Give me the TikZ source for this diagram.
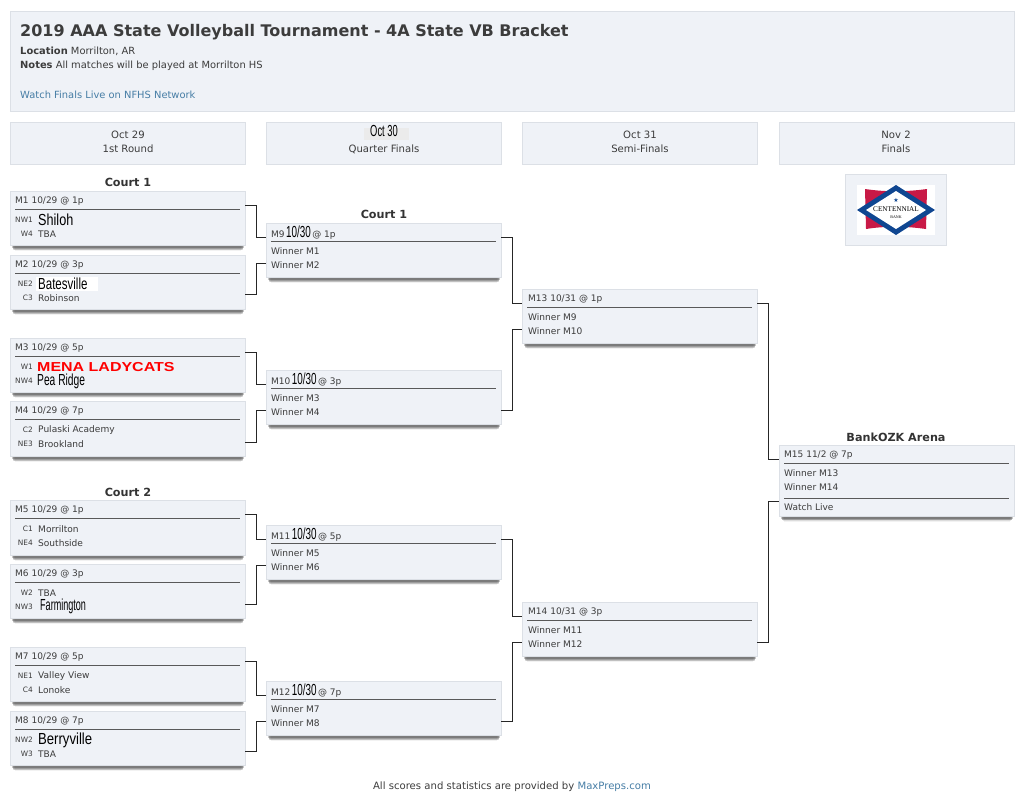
\documentclass[tikz,border=0pt]{standalone}
\usepackage{fontspec}
\usepackage{graphicx}
\setmainfont{DejaVu Sans}
\newfontfamily\plainfont{Liberation Sans}
\newfontfamily\logofont{Liberation Serif}
\usetikzlibrary{shadows}
\definecolor{boxfill}{RGB}{239,242,247}
\definecolor{boxline}{RGB}{220,224,230}
\definecolor{inktext}{RGB}{60,60,60}
\definecolor{linkblue}{RGB}{70,125,165}
\definecolor{logored}{RGB}{200,25,70}
\definecolor{logoblue}{RGB}{15,70,145}
\newcommand{\tallname}[2]{\scalebox{#1}[1]{\color{black}\plainfont\fontsize{16}{16}\selectfont #2}}
\tikzset{panel/.style={rectangle,draw=boxline,fill=boxfill,line width=0.9pt,inner sep=0pt,anchor=north west},
  matchbox/.style={panel,minimum width=235pt,minimum height=54pt,
    drop shadow={shadow xshift=0pt,shadow yshift=-7pt,shadow scale=0.965,opacity=0.05,fill=black},
    drop shadow={shadow xshift=0pt,shadow yshift=-6pt,shadow scale=0.97,opacity=0.09,fill=black},
    drop shadow={shadow xshift=0pt,shadow yshift=-5pt,shadow scale=0.975,opacity=0.13,fill=black},
    drop shadow={shadow xshift=0pt,shadow yshift=-4pt,shadow scale=0.98,opacity=0.18,fill=black},
    drop shadow={shadow xshift=0pt,shadow yshift=-3pt,shadow scale=0.985,opacity=0.22,fill=black}},
  rulebar/.style={draw=black!65,line width=0.9pt},
  elbow/.style={draw=black!85,line width=0.9pt},
  headtext/.style={anchor=west,inner sep=0pt,text=inktext,font=\fontsize{9}{10}\selectfont},
  seedtext/.style={anchor=east,inner sep=0pt,text=inktext,font=\fontsize{7.4}{9}\selectfont},
  teamtext/.style={anchor=west,inner sep=0pt,text=inktext,font=\fontsize{9.05}{11}\selectfont},
  roundtext/.style={inner sep=0pt,text=inktext,font=\fontsize{10.1}{11}\selectfont},
  courttext/.style={inner sep=0pt,text=black!80,font=\bfseries\fontsize{11.2}{12}\selectfont},
  toptext/.style={anchor=west,inner sep=0pt,text=inktext,font=\fontsize{9.9}{11}\selectfont}}

\begin{document}
\begin{tikzpicture}[x=1pt,y=-1pt]
  \useasboundingbox (0,0) rectangle (1024,804);
  % title panel
  \node[panel,minimum width=1004pt,minimum height=100pt] (titlebox) at (10,11) {};
  \node[toptext,font=\bfseries\fontsize{16}{18}\selectfont] (title) at (20,32.5) {2019 AAA State Volleyball Tournament - 4A State VB Bracket};
  \node[toptext] (location) at (20,51.5) {\textbf{Location} Morrilton, AR};
  \node[toptext] (notes) at (20,66) {\textbf{Notes} All matches will be played at Morrilton HS};
  \node[toptext,text=linkblue] (watch) at (20,95) {Watch Finals Live on NFHS Network};
  % round headers
  \node[panel,minimum width=235pt,minimum height=42pt] (roundone) at (10,122) {};
  \node[roundtext] (dateone) at (128,135) {Oct 29};
  \node[roundtext] (nameone) at (128,149) {1st Round};
  \node[panel,minimum width=235pt,minimum height=42pt] (roundtwo) at (266,122) {};
  \fill[black!8] (364,128) rectangle (409,140);
  \node[roundtext] (datetwo) at (384,131) {\tallname{0.585}{Oct 30}};
  \node[roundtext] (nametwo) at (384,149) {Quarter Finals};
  \node[panel,minimum width=235pt,minimum height=42pt] (roundthree) at (522,122) {};
  \node[roundtext] (datethree) at (640,135) {Oct 31};
  \node[roundtext] (namethree) at (640,149) {Semi-Finals};
  \node[panel,minimum width=235pt,minimum height=42pt] (roundfour) at (779,122) {};
  \node[roundtext] (datefour) at (896,135) {Nov 2};
  \node[roundtext] (namefour) at (896,149) {Finals};
  % logo
  \node[panel,minimum width=101pt,minimum height=71pt] (logobox) at (845,174) {};
  \fill[white] (857,185) rectangle (935,235);
  \fill[logored] (865,189) .. controls (885,192) and (905,192) .. (927,189) -- (926,229) .. controls (905,226) and (885,226) .. (866,229) -- cycle;
  \fill[logoblue] (857,210) -- (896,185) -- (935,210) -- (896,235) -- cycle;
  \fill[white] (866,210) -- (896,191) -- (926,210) -- (896,229) -- cycle;
  \node[inner sep=0pt,text=logoblue,font=\fontsize{6}{6}\selectfont] (logostar) at (896,200) {★};
  \node[inner sep=0pt,text=black,font=\logofont\fontsize{7.2}{7}\selectfont] (logoname) at (896,209.5) {CENTENNIAL};
  \node[inner sep=0pt,text=black,font=\logofont\fontsize{4}{4}\selectfont] (logobank) at (896,217) {BANK};
  % court labels
  \node[courttext] (courtone) at (128,182) {Court 1};
  \node[courttext] (courtonebis) at (384,214) {Court 1};
  \node[courttext] (courttwo) at (128,492) {Court 2};
  \node[courttext] (arena) at (896,437) {BankOZK Arena};
  % first round
  \begin{scope}[shift={(10,191)}]
    \node[matchbox] (m1) at (0,0) {};
    \draw[rulebar] (5,18) -- (230,18);
    \node[headtext] (m1head) at (5,10.5) {M1 10/29 @ 1p};
    \node[seedtext] (m1seeda) at (23,29) {NW1};
    \node[teamtext] (m1teama) at (28,29) {\tallname{0.79}{Shiloh}};
    \node[seedtext] (m1seedb) at (23,43) {W4};
    \node[teamtext] (m1teamb) at (28,43) {TBA};
    \coordinate (m1out) at (235,14);
  \end{scope}
  \begin{scope}[shift={(10,255)}]
    \node[matchbox] (m2) at (0,0) {};
    \fill[white] (26,22) rectangle (88,36);
    \draw[rulebar] (5,18) -- (230,18);
    \node[headtext] (m2head) at (5,10.5) {M2 10/29 @ 3p};
    \node[seedtext] (m2seeda) at (23,29) {NE2};
    \node[teamtext] (m2teama) at (28,29) {\tallname{0.72}{Batesville}};
    \node[seedtext] (m2seedb) at (23,43) {C3};
    \node[teamtext] (m2teamb) at (28,43) {Robinson};
    \coordinate (m2out) at (235,39);
  \end{scope}
  \begin{scope}[shift={(10,338)}]
    \node[matchbox] (m3) at (0,0) {};
    \draw[rulebar] (5,18) -- (230,18);
    \node[headtext] (m3head) at (5,10.5) {M3 10/29 @ 5p};
    \node[seedtext] (m3seeda) at (23,29) {W1};
    \node[teamtext,text=red] (m3teama) at (27,29) {\scalebox{1.23}[1]{\plainfont\bfseries\fontsize{13}{13}\selectfont MENA LADYCATS}};
    \node[seedtext] (m3seedb) at (23,43) {NW4};
    \node[teamtext] (m3teamb) at (27,43) {\tallname{0.64}{Pea Ridge}};
    \coordinate (m3out) at (235,14);
  \end{scope}
  \begin{scope}[shift={(10,401)}]
    \node[matchbox,minimum height=55pt] (m4) at (0,0) {};
    \draw[rulebar] (5,18) -- (230,18);
    \node[headtext] (m4head) at (5,10.5) {M4 10/29 @ 7p};
    \node[seedtext] (m4seeda) at (23,29) {C2};
    \node[teamtext] (m4teama) at (28,29) {Pulaski Academy};
    \node[seedtext] (m4seedb) at (23,43) {NE3};
    \node[teamtext] (m4teamb) at (28,43) {Brookland};
    \coordinate (m4out) at (235,41);
  \end{scope}
  \begin{scope}[shift={(10,500)}]
    \node[matchbox,minimum height=55pt] (m5) at (0,0) {};
    \draw[rulebar] (5,18) -- (230,18);
    \node[headtext] (m5head) at (5,10.5) {M5 10/29 @ 1p};
    \node[seedtext] (m5seeda) at (23,29) {C1};
    \node[teamtext] (m5teama) at (28,29) {Morrilton};
    \node[seedtext] (m5seedb) at (23,43) {NE4};
    \node[teamtext] (m5teamb) at (28,43) {Southside};
    \coordinate (m5out) at (235,14);
  \end{scope}
  \begin{scope}[shift={(10,564)}]
    \node[matchbox] (m6) at (0,0) {};
    \draw[rulebar] (5,18) -- (230,18);
    \node[headtext] (m6head) at (5,10.5) {M6 10/29 @ 3p};
    \node[seedtext] (m6seeda) at (23,29) {W2};
    \node[teamtext] (m6teama) at (28,29) {TBA};
    \node[seedtext] (m6seedb) at (23,43) {NW3};
    \node[teamtext] (m6teamb) at (30,42) {\tallname{0.566}{Farmington}};
    \coordinate (m6out) at (235,40);
  \end{scope}
  \begin{scope}[shift={(10,647)}]
    \node[matchbox] (m7) at (0,0) {};
    \draw[rulebar] (5,18) -- (230,18);
    \node[headtext] (m7head) at (5,10.5) {M7 10/29 @ 5p};
    \node[seedtext] (m7seeda) at (23,29) {NE1};
    \node[teamtext] (m7teama) at (28,29) {Valley View};
    \node[seedtext] (m7seedb) at (23,43) {C4};
    \node[teamtext] (m7teamb) at (28,43) {Lonoke};
    \coordinate (m7out) at (235,14);
  \end{scope}
  \begin{scope}[shift={(10,711)}]
    \node[matchbox] (m8) at (0,0) {};
    \draw[rulebar] (5,18) -- (230,18);
    \node[headtext] (m8head) at (5,10.5) {M8 10/29 @ 7p};
    \node[seedtext] (m8seeda) at (23,29) {NW2};
    \node[teamtext] (m8teama) at (28,29) {\tallname{0.82}{Berryville}};
    \node[seedtext] (m8seedb) at (23,43) {W3};
    \node[teamtext] (m8teamb) at (28,43) {TBA};
    \coordinate (m8out) at (235,40);
  \end{scope}
  % quarter finals
  \begin{scope}[shift={(266,223)}]
    \node[matchbox] (m9) at (0,0) {};
    \draw[rulebar] (5,18) -- (230,18);
    \node[headtext] (m9head) at (5,10) {M9\,\tallname{0.616}{10/30}\,@ 1p};
    \node[teamtext] (m9teama) at (5,28) {Winner M1};
    \node[teamtext] (m9teamb) at (5,42) {Winner M2};
    \coordinate (m9ina) at (0,14);
    \coordinate (m9inb) at (0,40);
    \coordinate (m9out) at (235,14);
  \end{scope}
  \begin{scope}[shift={(266,370)}]
    \node[matchbox] (m10) at (0,0) {};
    \draw[rulebar] (5,18) -- (230,18);
    \node[headtext] (m10head) at (5,10) {M10\,\tallname{0.616}{10/30}\,@ 3p};
    \node[teamtext] (m10teama) at (5,28) {Winner M3};
    \node[teamtext] (m10teamb) at (5,42) {Winner M4};
    \coordinate (m10ina) at (0,14);
    \coordinate (m10inb) at (0,40);
    \coordinate (m10out) at (235,40);
  \end{scope}
  \begin{scope}[shift={(266,525)}]
    \node[matchbox] (m11) at (0,0) {};
    \draw[rulebar] (5,18) -- (230,18);
    \node[headtext] (m11head) at (5,10) {M11\,\tallname{0.616}{10/30}\,@ 5p};
    \node[teamtext] (m11teama) at (5,28) {Winner M5};
    \node[teamtext] (m11teamb) at (5,42) {Winner M6};
    \coordinate (m11ina) at (0,14);
    \coordinate (m11inb) at (0,40);
    \coordinate (m11out) at (235,14);
  \end{scope}
  \begin{scope}[shift={(266,681)}]
    \node[matchbox] (m12) at (0,0) {};
    \draw[rulebar] (5,18) -- (230,18);
    \node[headtext] (m12head) at (5,10) {M12\,\tallname{0.616}{10/30}\,@ 7p};
    \node[teamtext] (m12teama) at (5,28) {Winner M7};
    \node[teamtext] (m12teamb) at (5,42) {Winner M8};
    \coordinate (m12ina) at (0,14);
    \coordinate (m12inb) at (0,40);
    \coordinate (m12out) at (235,40);
  \end{scope}
  % semi finals
  \begin{scope}[shift={(522,289)}]
    \node[matchbox] (m13) at (0,0) {};
    \draw[rulebar] (5,18) -- (230,18);
    \node[headtext] (m13head) at (6,10.5) {M13 10/31 @ 1p};
    \node[teamtext] (m13teama) at (6,28) {Winner M9};
    \node[teamtext] (m13teamb) at (6,42) {Winner M10};
    \coordinate (m13ina) at (0,14);
    \coordinate (m13inb) at (0,40);
    \coordinate (m13out) at (235,14);
  \end{scope}
  \begin{scope}[shift={(522,602)}]
    \node[matchbox] (m14) at (0,0) {};
    \draw[rulebar] (5,18) -- (230,18);
    \node[headtext] (m14head) at (6,10.5) {M14 10/31 @ 3p};
    \node[teamtext] (m14teama) at (6,28) {Winner M11};
    \node[teamtext] (m14teamb) at (6,42) {Winner M12};
    \coordinate (m14ina) at (0,14);
    \coordinate (m14inb) at (0,40);
    \coordinate (m14out) at (235,40);
  \end{scope}
  % finals
  \begin{scope}[shift={(779,445)}]
    \node[matchbox,minimum height=71pt] (m15) at (0,0) {};
    \draw[rulebar] (5,18) -- (230,18);
    \node[headtext] (m15head) at (5,10.5) {M15 11/2 @ 7p};
    \node[teamtext] (m15teama) at (5,28) {Winner M13};
    \node[teamtext] (m15teamb) at (5,42) {Winner M14};
    \draw[rulebar] (5,53) -- (230,53);
    \node[headtext] (m15live) at (5,62) {Watch Live};
    \coordinate (m15ina) at (0,14);
    \coordinate (m15inb) at (0,56);
  \end{scope}
  % connectors
  \draw[elbow] (m1out) -- ++(11.5,0) |- (m9ina);
  \draw[elbow] (m2out) -- ++(11.5,0) |- (m9inb);
  \draw[elbow] (m3out) -- ++(11.5,0) |- (m10ina);
  \draw[elbow] (m4out) -- ++(11.5,0) |- (m10inb);
  \draw[elbow] (m5out) -- ++(11.5,0) |- (m11ina);
  \draw[elbow] (m6out) -- ++(11.5,0) |- (m11inb);
  \draw[elbow] (m7out) -- ++(11.5,0) |- (m12ina);
  \draw[elbow] (m8out) -- ++(11.5,0) |- (m12inb);
  \draw[elbow] (m9out) -- ++(11.5,0) |- (m13ina);
  \draw[elbow] (m10out) -- ++(11.5,0) |- (m13inb);
  \draw[elbow] (m11out) -- ++(11.5,0) |- (m14ina);
  \draw[elbow] (m12out) -- ++(11.5,0) |- (m14inb);
  \draw[elbow] (m13out) -- ++(11.5,0) |- (m15ina);
  \draw[elbow] (m14out) -- ++(11.5,0) |- (m15inb);
  % footer
  \node[roundtext] (footer) at (512,787) {All scores and statistics are provided by \textcolor{linkblue}{MaxPreps.com}};
\end{tikzpicture}
\end{document}
